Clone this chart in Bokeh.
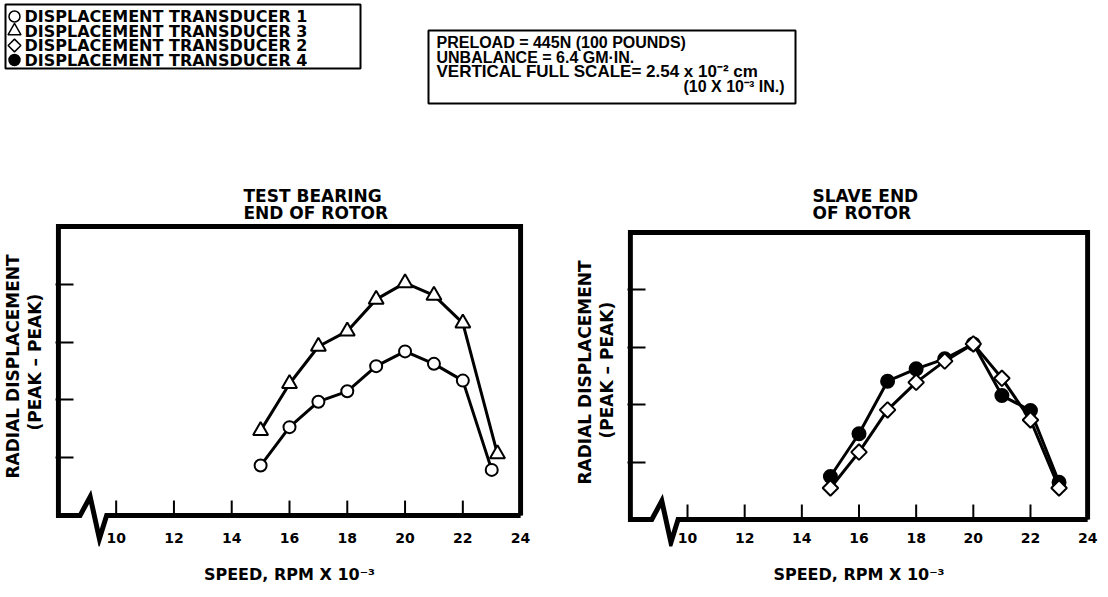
from math import pi
from bokeh.plotting import figure
from bokeh.models import Range1d, FixedTicker, Title, ColumnDataSource
from bokeh.layouts import column, row
from bokeh.embed import file_html
from bokeh.resources import INLINE
from bokeh.core.properties import value

FONT = "DejaVu Sans"
FONT2 = "Liberation Sans"

# ---------------- data (radial displacement, mils peak-peak; full scale = 10 mils) ----------------
speed = [15, 16, 17, 18, 19, 20, 21, 22, 23]
speed_t3 = [15, 16, 17, 18, 19, 20, 21, 22, 23.2]
transducer_1 = [1.73, 3.06, 3.94, 4.30, 5.17, 5.68, 5.25, 4.67, 1.58]
transducer_3 = [2.94, 4.56, 5.85, 6.38, 7.48, 8.05, 7.62, 6.66, 2.13]
transducer_2 = [1.10, 2.35, 3.82, 4.78, 5.52, 6.12, 4.92, 3.47, 1.10]
transducer_4 = [1.50, 2.99, 4.82, 5.25, 5.60, 6.12, 4.32, 3.80, 1.30]

x_ticks = [10, 12, 14, 16, 18, 20, 22, 24]
y_ticks = [2, 4, 6, 8]
X_MIN, X_MAX, Y_FULL = 8, 24, 10
break_x = [8.75, 9.1, 9.42, 9.67]
break_y = [0, 0.65, -0.8, 0]

legend_labels = ["DISPLACEMENT TRANSDUCER  1", "DISPLACEMENT TRANSDUCER  3",
                 "DISPLACEMENT TRANSDUCER  2", "DISPLACEMENT TRANSDUCER  4"]
legend_markers = ["circle", "triangle", "square", "circle"]
legend_fills = ["white", "white", "white", "black"]
legend_angles = [0, 0, pi / 4, 0]

note_lines = ["PRELOAD = 445N (100 POUNDS)",
              "UNBALANCE = 6.4 GM·IN."]
note_scale = "VERTICAL FULL SCALE= 2.54 x 10⁻² cm"
note_last = "(10 X 10⁻³ IN.)"

x_label = "SPEED, RPM X 10⁻³"
y_label_1 = "RADIAL DISPLACEMENT"
y_label_2 = "(PEAK – PEAK)"


def make_panel(width, bl, br, y_start, y_end, title, title_offset, ylab_offsets, series):
    # frames of plots in one row are aligned by Bokeh, so top/bottom borders are shared
    p = figure(width=width, height=437, x_range=Range1d(7.9, 24.1),
               y_range=Range1d(y_start, y_end),
               output_backend="svg", toolbar_location=None, title=None,
               min_border_left=bl, min_border_right=br, min_border_top=62, min_border_bottom=51)
    p.outline_line_color = None
    p.xgrid.visible = False
    p.ygrid.visible = False

    xa = p.xaxis[0]
    xa.ticker = FixedTicker(ticks=x_ticks)
    xa.axis_line_color = None
    xa.major_tick_line_color = None
    xa.minor_tick_line_color = None
    xa.major_label_standoff = -20
    xa.major_label_text_font = FONT
    xa.major_label_text_font_style = "bold"
    xa.major_label_text_font_size = "14px"
    xa.major_label_text_color = "black"
    xa.axis_label = x_label
    xa.axis_label_text_font = FONT
    xa.axis_label_text_font_style = "bold"
    xa.axis_label_text_font_size = "16px"
    xa.axis_label_text_color = "black"
    xa.axis_label_standoff = 19

    ya = p.yaxis[0]
    ya.ticker = FixedTicker(ticks=y_ticks)
    ya.axis_line_color = None
    ya.major_tick_in = 18
    ya.major_tick_out = 0
    ya.major_tick_line_width = 2
    ya.major_tick_line_color = "black"
    ya.minor_tick_line_color = None
    ya.major_label_overrides = {t: "" for t in y_ticks}
    ya.major_label_standoff = 0

    p.add_layout(Title(text=title, align="left", offset=title_offset, text_font=FONT,
                       text_font_style="bold", text_font_size="17px", text_color="black",
                       text_line_height=0.85, standoff=0), "above")
    # spacer between the frame and the vertical axis titles
    p.add_layout(Title(text=" ", text_font_size="1px", standoff=8), "left")
    p.add_layout(Title(text=y_label_2, align="left", offset=ylab_offsets[1], text_font=FONT,
                       text_font_style="bold", text_font_size="17px", text_color="black",
                       standoff=0), "left")
    p.add_layout(Title(text=y_label_1, align="left", offset=ylab_offsets[0], text_font=FONT,
                       text_font_style="bold", text_font_size="17px", text_color="black",
                       standoff=0), "left")

    # frame with axis break
    fx = [X_MAX, X_MAX, X_MIN, X_MIN] + break_x + [X_MAX]
    fy = [0, Y_FULL, Y_FULL, 0] + break_y + [0]
    p.line(fx, fy, line_width=5, line_color="black", line_join="miter")
    # x ticks standing on the axis line
    p.ray(x=x_ticks, y=[0] * len(x_ticks), length=15, angle=pi / 2, length_units="screen",
          line_width=2, line_color="black")

    for xs, ys, marker, fill, size, angle in series:
        p.line(xs, ys, line_width=3, line_color="black")
        p.scatter(xs, ys, marker=marker, size=size, fill_color=fill, line_color="black",
                  line_width=2, angle=angle)
    return p


left = make_panel(560, 55, 37, -1.07, 10.14,
                  "TEST BEARING\nEND OF ROTOR", 188, (68, 116),
                  [(speed, transducer_1, "circle", "white", 12, 0),
                   (speed_t3, transducer_3, "triangle", "white", 15, 0)])
right = make_panel(548, 67, 18, -0.94, 10.35,
                   "SLAVE END\nOF ROTOR", 185, (62, 108),
                   [(speed, transducer_4, "circle", "black", 13, 0),
                    (speed, transducer_2, "square", "white", 11, pi / 4)])

# ---------------- header: legend box and test-condition box ----------------
h = figure(width=1108, height=160, x_range=Range1d(0, 1108), y_range=Range1d(160, 0),
           output_backend="svg", toolbar_location=None, title=None,
           min_border=0, outline_line_color=None)
h.axis.visible = False
h.grid.visible = False

h.quad(left=[5, 428], right=[360, 795], top=[4, 30], bottom=[68, 103],
       fill_color=None, line_color="black", line_width=2)

leg_y = [16, 30.5, 45, 59.5]
src = ColumnDataSource(dict(x=[14] * 4, y=leg_y, m=legend_markers, f=legend_fills,
                            a=legend_angles, tx=[24] * 4, t=legend_labels,
                            s=[11, 13, 9, 11]))
h.scatter("x", "y", marker="m", fill_color="f", angle="a", size="s", line_color="black",
          line_width=1.5, source=src)
h.text("tx", "y", text="t", source=src, text_font=value(FONT), text_font_style="bold",
       text_font_size="16px", text_baseline="middle", text_align="left", text_color="black")

h.text(x=[436] * 2, y=[42, 56.5], text=note_lines, text_font=value(FONT2),
       text_font_style="bold", text_font_size="16px", text_baseline="middle",
       text_align="left", text_color="black")
h.text(x=[436], y=[71], text=[note_scale], text_font=value(FONT2),
       text_font_style="bold", text_font_size="17px", text_baseline="middle",
       text_align="left", text_color="black")
h.text(x=[784], y=[86], text=[note_last], text_font=value(FONT2),
       text_font_style="bold", text_font_size="16px", text_baseline="middle",
       text_align="right", text_color="black")

layout = column(h, row(left, right))
open("out.html", "w").write(file_html(layout, INLINE))
